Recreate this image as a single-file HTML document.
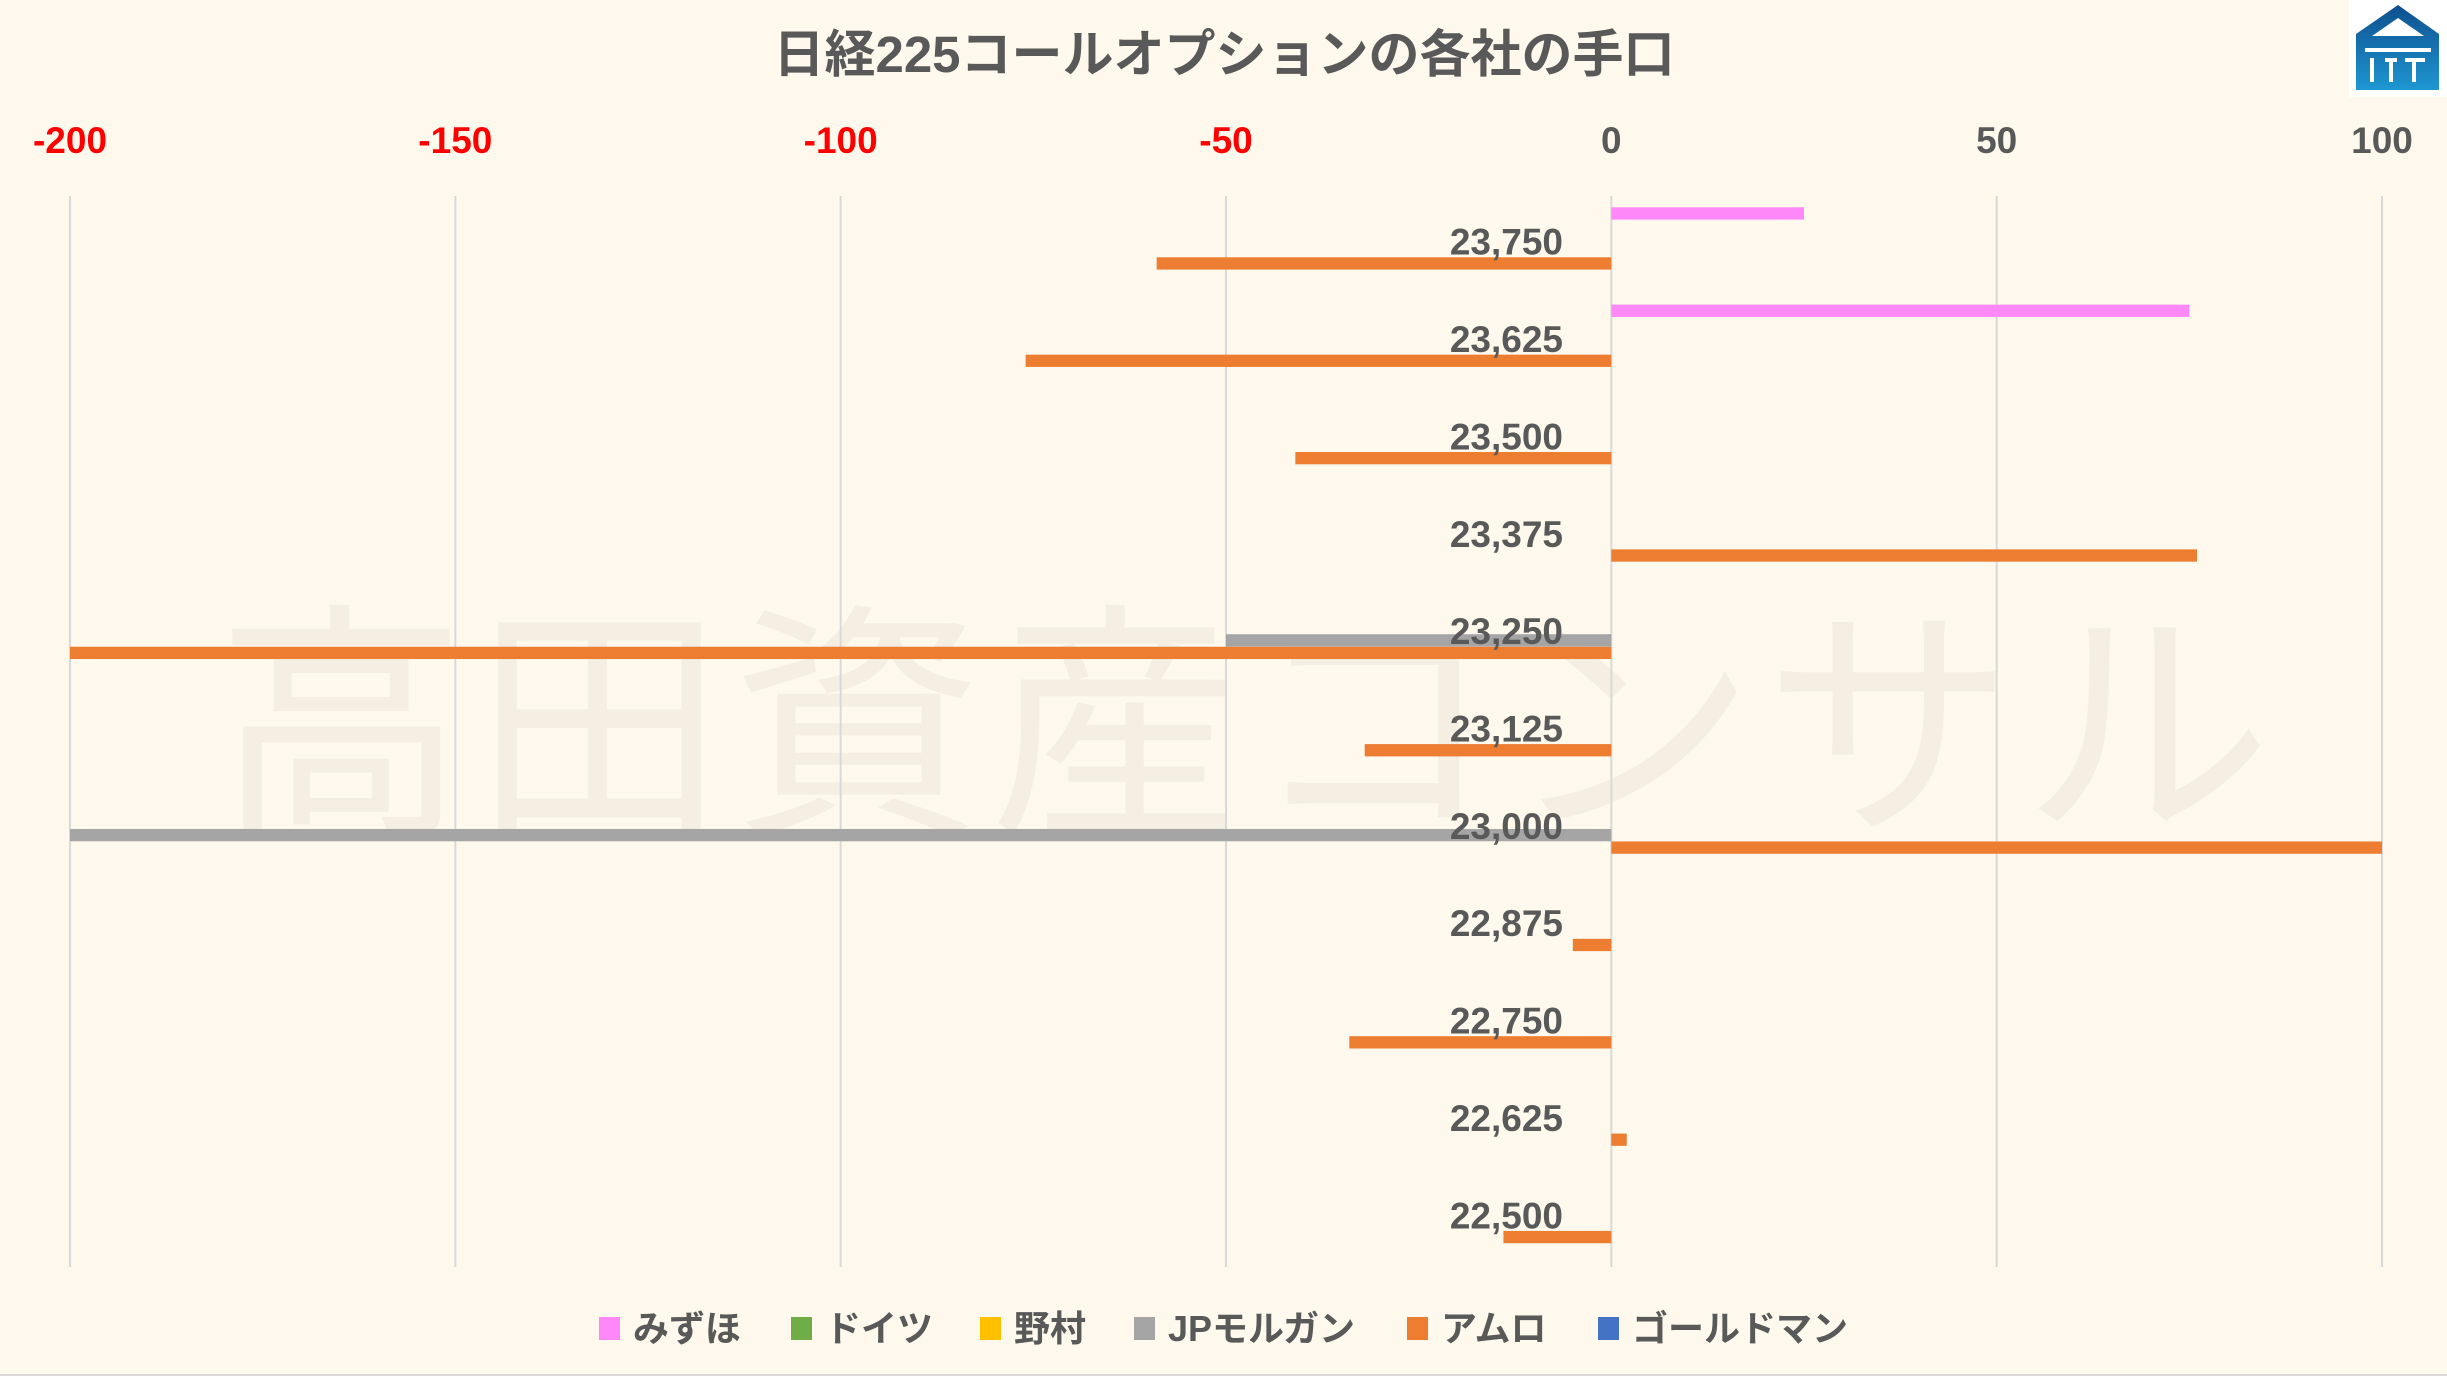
<!DOCTYPE html>
<html><head><meta charset="utf-8"><style>
body{margin:0;background:#fef9ec;}
#wrap{position:relative;width:2447px;height:1376px;background:#fef9ec;overflow:hidden;font-family:"Liberation Sans","Noto Sans CJK JP",sans-serif;}
svg text{font-family:"Liberation Sans","Noto Sans CJK JP",sans-serif;}
</style></head><body>
<div id="wrap">
<svg id="chart" width="2447" height="1376"></svg>
</div>
<script>
const categories=["23,750","23,625","23,500","23,375","23,250","23,125","23,000","22,875","22,750","22,625","22,500"];
const seriesNames=["みずほ","ドイツ","野村","JPモルガン","アムロ","ゴールドマン"];
const seriesColors=["#ff88f8","#70ad47","#ffc000","#a5a5a5","#ed7d31","#4472c4"];
const mizuho=[25,75,0,0,0,0,0,0,0,0,0];
const deutsche=[0,0,0,0,0,0,0,0,0,0,0];
const nomura=[0,0,0,0,0,0,0,0,0,0,0];
const jpm=[0,0,0,0,-50,0,-200,0,0,0,0];
const amuro=[-59,-76,-41,76,-200,-32,100,-5,-34,2,-14];
const goldman=[0,0,0,0,0,0,0,0,0,0,0];
const ticks=[-200,-150,-100,-50,0,50,100];
const tickLabels=["-200","-150","-100","-50","0","50","100"];

const NS="http://www.w3.org/2000/svg";
const svg=document.getElementById('chart');
const X0=70,X1=2382,VMIN=-200,VMAX=100,TOP=196,BOT=1267;
const xs=v=>X0+(v-VMIN)/(VMAX-VMIN)*(X1-X0);
const band=(BOT-TOP)/categories.length;
const yc=i=>TOP+band*(i+0.5);
function mk(t,a){const e=document.createElementNS(NS,t);for(const k in a)e.setAttribute(k,a[k]);svg.appendChild(e);return e;}

// watermark
let wm=mk('text',{x:1248,y:815,'text-anchor':'middle','font-size':250,fill:'#000','fill-opacity':0.04,'letter-spacing':8});
wm.textContent="高田資産コンサル";



// title
let t=mk('text',{x:1224,y:72,'text-anchor':'middle','font-size':51,'font-weight':'bold',fill:'#595959'});
t.textContent="日経225コールオプションの各社の手口";



// logo
let lg=mk('g',{});


lg.innerHTML='<rect x="2349" y="0" width="98" height="97" fill="#fff"/><defs><linearGradient id="lgr" x1="0" y1="0" x2="0" y2="1"><stop offset="0" stop-color="#0e4f8e"/><stop offset="1" stop-color="#1e96d2"/></linearGradient></defs><path d="M2398 5 L2439 34 L2439 90 L2356 90 L2356 34 Z" fill="url(#lgr)"/><path d="M2398 18 L2424 36 L2372 36 Z" fill="#fff"/><rect x="2365" y="48" width="66" height="4" fill="#fff"/><rect x="2370" y="58" width="4" height="24" fill="#fff"/><rect x="2385" y="58" width="12" height="4" fill="#fff"/><rect x="2389" y="58" width="4" height="24" fill="#fff"/><rect x="2405" y="58" width="20" height="4" fill="#fff"/><rect x="2412" y="58" width="4" height="24" fill="#fff"/>';
svg.appendChild(lg);

// gridlines & ticks
ticks.forEach((v,i)=>{
  let g=mk('line',{x1:xs(v),x2:xs(v),y1:TOP,y2:BOT,stroke:'#d9d9d9','stroke-width':2});
  
  
  let tl=mk('text',{x:xs(v),y:153,'text-anchor':'middle','font-size':37,'font-weight':'bold',fill:v<0?'#ff0000':'#595959'});
  tl.textContent=tickLabels[i];
  
  
});

// bars
const series=[mizuho,deutsche,nomura,jpm,amuro,goldman];
const slot=12.5,bh=12.3;
series.forEach((vals,s)=>{
  vals.forEach((v,i)=>{
    if(v===0)return;
    const y=yc(i)-37.5+slot*(s+0.5)-bh/2;
    const x=Math.min(xs(v),xs(0)),w=Math.abs(xs(v)-xs(0));
    let r=mk('rect',{x:x,y:y,width:w,height:bh,fill:seriesColors[s]});
    
    
  });
});

// category labels
categories.forEach((c,i)=>{
  let l=mk('text',{x:1563,y:yc(i)+10,'text-anchor':'end','font-size':37,'font-weight':'bold',fill:'#595959'});
  l.textContent=c;
  
  
});

// legend
const lx=[599,791,980,1134,1407,1598];
seriesNames.forEach((n,s)=>{
  let r=mk('rect',{x:lx[s],y:1317,width:21,height:23,fill:seriesColors[s]});
  
  
  let tx=mk('text',{x:lx[s]+34,y:1341,'font-size':36,'font-weight':'bold',fill:'#595959'});
  tx.textContent=n;
  
  
});
let bl=mk('line',{x1:0,x2:2447,y1:1375,y2:1375,stroke:'#d9d9d9','stroke-width':2});


</script>
</body></html>
